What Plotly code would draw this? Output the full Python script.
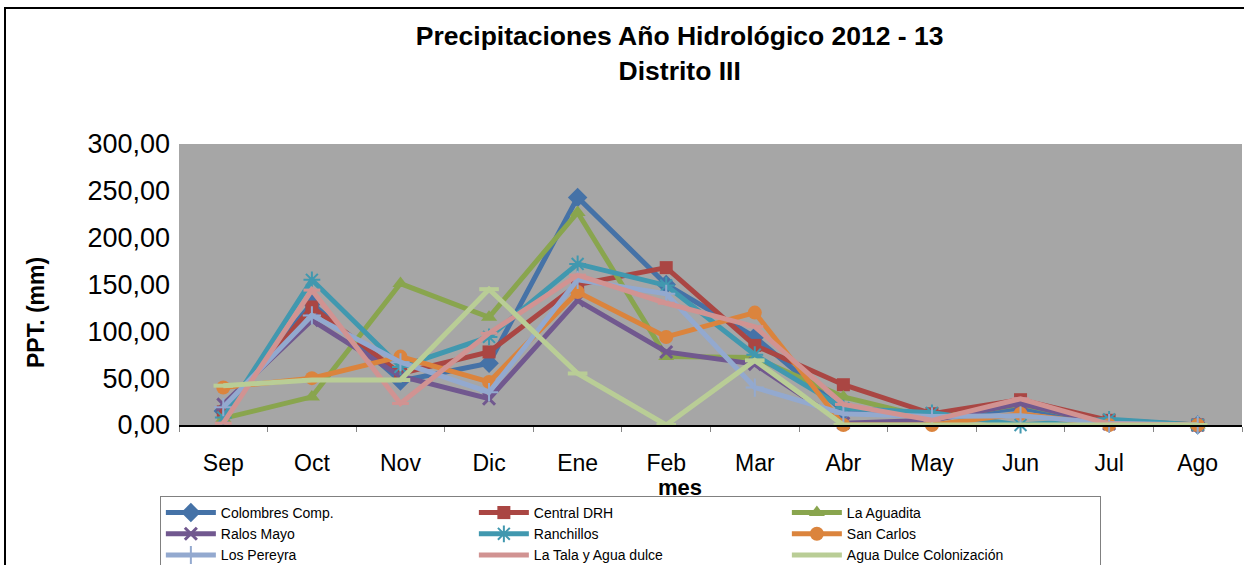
import plotly.graph_objects as go

meses = ['Sep', 'Oct', 'Nov', 'Dic', 'Ene', 'Feb', 'Mar', 'Abr', 'May', 'Jun', 'Jul', 'Ago']

colombres = [15, 130, 47, 66, 243, 150, 94, 15, 8, 18, 2, 0]
central_drh = [14, 126, 55, 78, 150, 168, 85, 43, 12, 27, 5, 0]
la_aguadita = [7, 30, 151, 115, 227, 73, 72, 30, 7, 22, 2, 0]
ralos_mayo = [22, 112, 52, 28, 133, 78, 65, 2, 5, 23, 1, 0]
ranchillos = [8, 155, 62, 94, 172, 149, 75, 18, 13, 0, 6, 0]
san_carlos = [40, 50, 73, 46, 142, 94, 120, 0, 0, 12, 0, 0]
los_pereyra = [19, 117, 67, 35, 155, 140, 40, 12, 9, 10, 2, 0]
la_tala = [2, 144, 23, 98, 160, 130, 105, 22, 5, 28, 1, 0]
agua_dulce = [42, 48, 48, 145, 55, 0, 69, 0, 0, 0, 0, 0]

FONT = 'Arial, Liberation Sans, sans-serif'

# (name, values, colour, symbol, size, marker line width)
series = [
    ('Colombres Comp.', colombres, '#4572A7', 'diamond', 15, 0),
    ('Central DRH', central_drh, '#AA4643', 'square', 13, 0),
    ('La Aguadita', la_aguadita, '#89A54E', 'triangle-up', 14, 0),
    ('Ralos Mayo', ralos_mayo, '#71588F', 'x-thin-open', 12, 3),
    ('Ranchillos', ranchillos, '#4198AF', 'asterisk-open', 14, 2),
    ('San Carlos', san_carlos, '#DB843D', 'circle', 14, 0),
    ('Los Pereyra', los_pereyra, '#93A9CF', 'cross-thin-open', 13, 2),
    ('La Tala y Agua dulce', la_tala, '#D19392', 'line-ew-open', 12, 3),
    ('Agua Dulce Colonización', agua_dulce, '#B9CD96', 'line-ew-open', 14, 4),
]

fig = go.Figure()
for name, vals, color, symbol, size, lw in series:
    fig.add_trace(go.Scatter(
        x=meses, y=vals, name=name, mode='lines+markers', cliponaxis=False,
        line=dict(color=color, width=5),
        marker=dict(symbol=symbol, size=size, color=color,
                    line=dict(color=color, width=lw)),
    ))

fig.update_layout(
    width=1244, height=565,
    margin=dict(l=179, r=2, t=144, b=140, autoexpand=False),
    paper_bgcolor='white', plot_bgcolor='#A6A6A6',
    font=dict(family=FONT, color='black'),
    separators=',.',
    title=dict(
        text='<b>Precipitaciones Año Hidrológico 2012 - 13<br>Distrito III</b>',
        font=dict(size=26.5), x=0.471, xref='paper', xanchor='center',
        y=0.92, yref='container', yanchor='middle',
    ),
    showlegend=True,
    legend=dict(
        orientation='h', x=-0.018, xanchor='left', y=(425 - 496) / 281, yanchor='top',
        bordercolor='#808080', borderwidth=1, bgcolor='white',
        font=dict(size=14), entrywidth=248, entrywidthmode='pixels',
        itemwidth=50, tracegroupgap=0,
    ),
)

fig.update_xaxes(
    type='category', range=[-0.5, 11.5], showgrid=False,
    showline=True, linecolor='black', linewidth=2,
    ticks='outside', tickson='boundaries', ticklen=5, tickcolor='#868686',
    tickfont=dict(size=23), ticklabelstandoff=16,
)
fig.update_yaxes(
    range=[0, 300], dtick=50, tickformat='.2f', showgrid=False,
    showline=False, zeroline=False, ticks='',
    tickfont=dict(size=27), ticklabelstandoff=8,
)

fig.add_annotation(text='<b>mes</b>', xref='paper', yref='paper',
                   x=(680 - 179) / 1063, y=(425 - 487) / 281,
                   xanchor='center', yanchor='middle',
                   showarrow=False, font=dict(size=22))
fig.add_annotation(text='<b>PPT. (mm)</b>', xref='paper', yref='paper',
                   x=(36 - 179) / 1063, y=(425 - 313) / 281, textangle=-90,
                   xanchor='center', yanchor='middle',
                   showarrow=False, font=dict(size=23))

# chart border
fig.add_shape(type='rect', xref='paper', yref='paper',
              x0=(5 - 179) / 1063, x1=1.2, y0=-1, y1=(425 - 8) / 281,
              line=dict(color='black', width=2), layer='below')

fig.write_html('out.html', config={'displayModeBar': False},
               post_script="document.body.style.margin='0';")
